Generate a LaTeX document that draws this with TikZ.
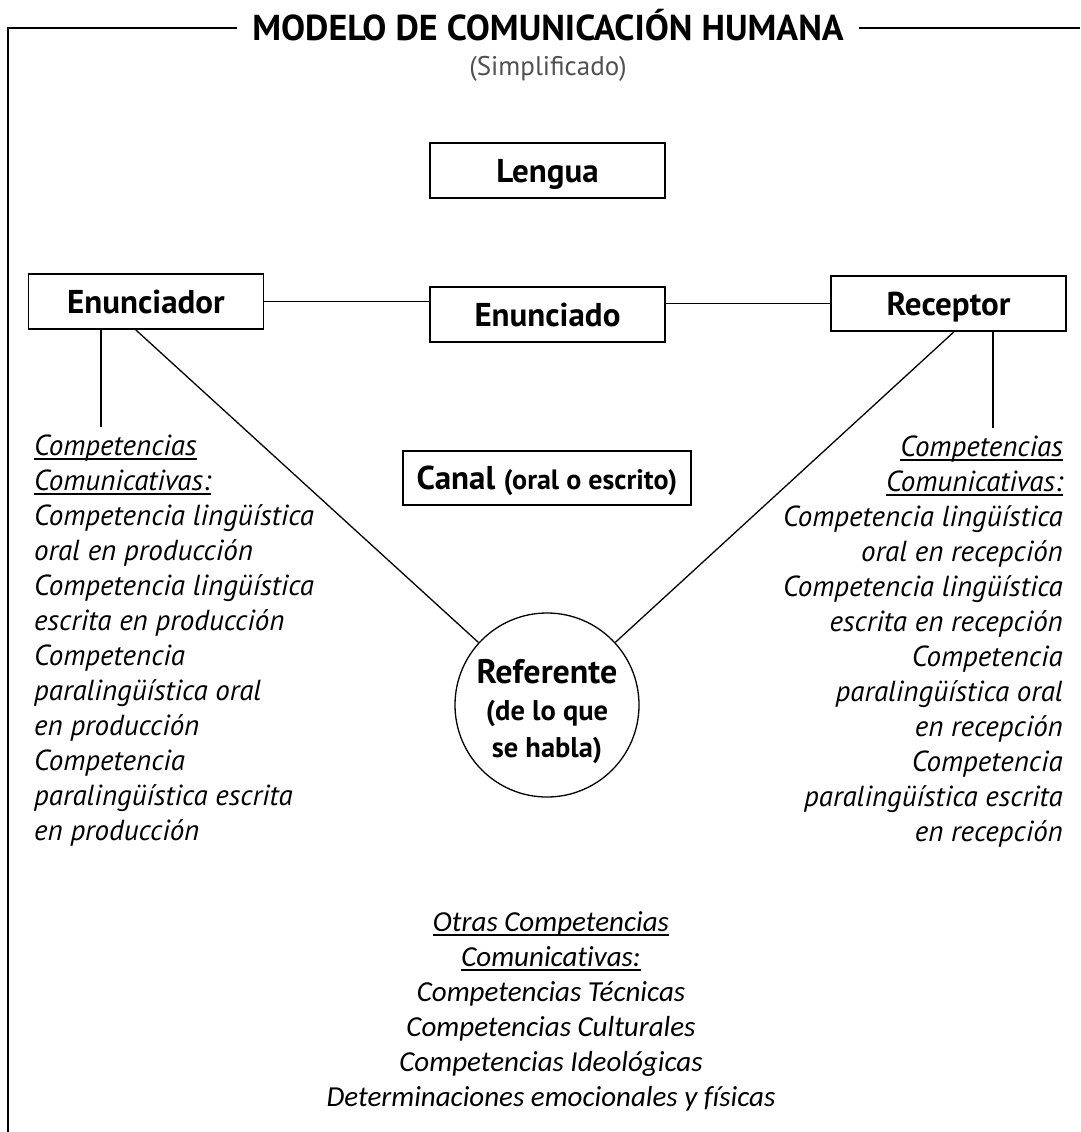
\documentclass[tikz,border=0pt]{standalone}
\usepackage{fontspec}
\setmainfont{PT Sans}
\newfontfamily\bottomfont[Ligatures=NoCommon]{Carlito}
\newcommand{\ulinetxt}[1]{\setbox0\hbox{#1}\rlap{\vrule height -3.4pt depth 4.7pt width \wd0}\box0}
\definecolor{subgray}{HTML}{505050}
\begin{document}
\begin{tikzpicture}[x=1pt,y=-1pt,
  frame/.style={line width=1.3pt},
  conn/.style={line width=1.3pt},
  box/.style={draw, line width=1.6pt, inner sep=0pt, minimum width=235pt, minimum height=55pt,
    text height=23pt, text depth=0pt, font=\bfseries\fontsize{33}{36}\selectfont},
  side/.style={inner sep=0pt, font=\itshape\fontsize{29}{35}\selectfont},
  bottomtxt/.style={inner sep=0pt, anchor=base, font=\bottomfont\itshape\fontsize{29}{35}\selectfont},
  reftxt/.style={inner sep=0pt, anchor=base, font=\bfseries\fontsize{28.5}{30}\selectfont},
]
\useasboundingbox (0,0) rectangle (1080,1132);

% title and frame
\node[anchor=base, inner xsep=15.5pt, inner ysep=0pt, font=\bfseries\fontsize{36}{40}\selectfont] (title) at (548,41) {MODELO DE COMUNICACIÓN HUMANA};
\node[anchor=base, inner sep=0pt, text=subgray, font=\fontsize{27}{30}\selectfont] (sub) at (548,76) {(Simplificado)};
\coordinate (ftop) at (8,28);
\coordinate (fbot) at (8,1132);
\coordinate (fright) at (1080,28);
\draw[frame] (title.west |- ftop) -- (ftop) -- (fbot);
\draw[frame] (title.east |- ftop) -- (fright);

% boxes
\node[box] (lengua) at (547.5,170.5) {Lengua};
\node[box] (enunciador) at (146,301.5) {Enunciador};
\node[box] (enunciado) at (547.5,314.5) {Enunciado};
\node[box] (receptor) at (948.5,303.5) {Receptor};
\node[box, minimum width=288pt, minimum height=54pt] (canal) at (547,478) {Canal {\fontsize{28}{30}\selectfont(oral o escrito)}};

% referente
\node[draw, circle, line width=1.3pt, minimum size=184pt, inner sep=0pt] (ref) at (547,705) {};
\node[reftxt, font=\bfseries\fontsize{34}{36}\selectfont] (ref1) at (547,683) {Referente};
\node[reftxt] (ref2) at (547,720) {(de lo que};
\node[reftxt] (ref3) at (547,757) {se habla)};

% connectors
\draw[conn] (enunciador.east) -- (enunciado.west |- enunciador.east);
\draw[conn] (enunciado.east |- receptor.west) -- (receptor.west);
\draw[conn] (enunciador.250) -- (ref);
\draw[conn] (receptor.281) -- (ref);
\coordinate (enuv) at (101,427);
\coordinate (recv) at (993,428);
\draw[conn] (enunciador.south -| enuv) -- (enuv);
\draw[conn] (receptor.south -| recv) -- (recv);

% left text
\foreach \t [count=\i] in {\ulinetxt{Competencias}, \ulinetxt{Comunicativas:}, Competencia lingüística, oral en producción, Competencia lingüística, escrita en producción, Competencia, paralingüística oral, en producción, Competencia, paralingüística escrita, en producción}
  \node[side, anchor=base west] (lt\i) at (34,{420+35*\i}) {\t};

% right text
\foreach \t [count=\i] in {\ulinetxt{Competencias}, \ulinetxt{Comunicativas:}, Competencia lingüística, oral en recepción, Competencia lingüística, escrita en recepción, Competencia, paralingüística oral, en recepción, Competencia, paralingüística escrita, en recepción}
  \node[side, anchor=base east] (rt\i) at (1063,{421+35*\i}) {\t};

% bottom text
\foreach \t [count=\i] in {\ulinetxt{Otras Competencias}, \ulinetxt{Comunicativas:}, Competencias Técnicas, Competencias Culturales, Competencias Ideológicas, Determinaciones emocionales y físicas}
  \node[bottomtxt] (bt\i) at (551,{896+35*\i}) {\t};
\end{tikzpicture}
\end{document}
